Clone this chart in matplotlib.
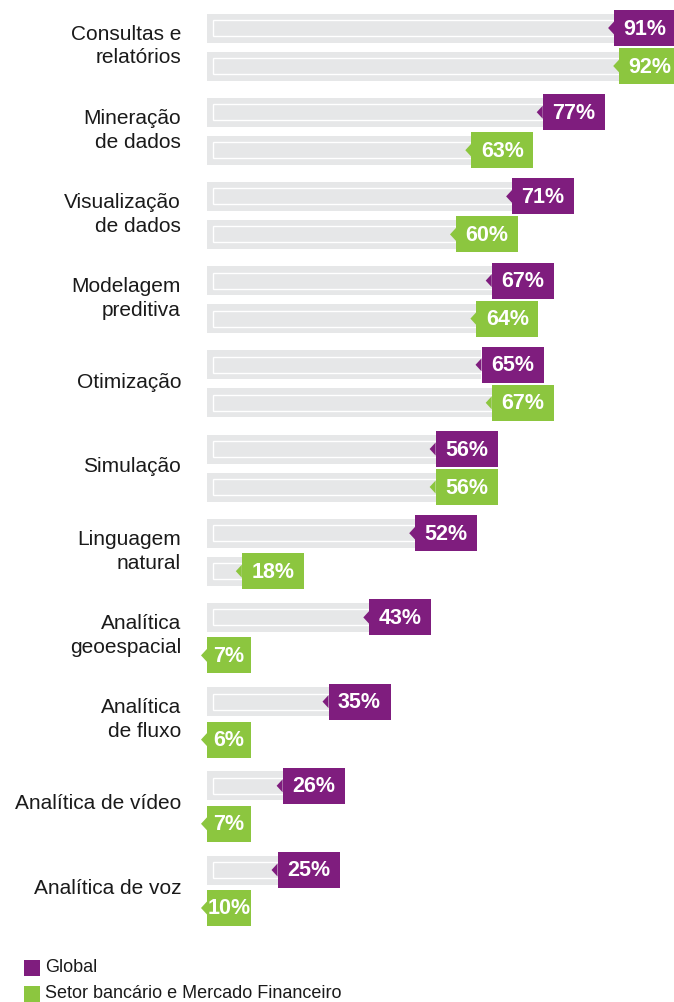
import matplotlib.pyplot as plt
from matplotlib.patches import Rectangle, Polygon

plt.rcParams['font.family'] = ['Liberation Sans', 'DejaVu Sans']

categories = ["Consultas e\nrelatórios", "Mineração\nde dados", "Visualização\nde dados",
              "Modelagem\npreditiva", "Otimização", "Simulação", "Linguagem\nnatural",
              "Analítica\ngeoespacial", "Analítica\nde fluxo", "Analítica de vídeo",
              "Analítica de voz"]
global_vals = [91, 77, 71, 67, 65, 56, 52, 43, 35, 26, 25]
bank_vals = [92, 63, 60, 64, 67, 56, 18, 7, 6, 7, 10]
series_names = ["Global", "Setor bancário e Mercado Financeiro"]

purple = "#7f1d7e"
green = "#8cc63f"
grey = "#e6e7e8"
text_col = "#1a1a1a"

W, H = 674, 1002
fig = plt.figure(figsize=(W / 100, H / 100), dpi=100)
ax = fig.add_axes([0, 0, 1, 1])
ppu = 5.1                      # pixels per percentage point
x_left = -150 / ppu
ax.set_xlim(x_left, x_left + W / ppu)
ax.set_ylim(H, 0)
ax.axis('off')
x0 = (207 - 150) / ppu         # where the grey tracks start

for i, cat in enumerate(categories):
    yc = 28 + 84.2 * i
    for j, (v, col) in enumerate([(global_vals[i], purple), (bank_vals[i], green)]):
        y = yc + 38 * j
        bl = max(v, x0)
        # grey track with white inner outline
        if v > x0:
            ax.add_patch(Rectangle((x0, y - 14.5), v - x0, 29, color=grey, lw=0))
            ax.add_patch(Rectangle((x0 + 6 / ppu, y - 8), v - x0, 16, fill=False,
                                   ec='white', lw=1.0))
        # value tag
        w = (62 if v > 10 else 44) / ppu
        ax.add_patch(Rectangle((bl, y - 18), w, 36, color=col, lw=0, zorder=3))
        ax.add_patch(Polygon([(bl, y - 6.5), (bl - 6 / ppu, y), (bl, y + 6.5)],
                             closed=True, color=col, lw=0, zorder=3))
        ax.text(bl + w / 2, y + 1, f"{v}%", color='white', fontsize=15.5,
                fontweight='bold', ha='center', va='center', zorder=4)
    ax.text((181 - 150) / ppu, yc + 18, cat, ha='right', va='center', fontsize=15,
            color=text_col, linespacing=1.32)

# legend
for k, (name, col) in enumerate(zip(series_names, [purple, green])):
    yc = 968 + 26 * k
    fig.add_artist(Rectangle((24 / W, 1 - (yc + 8) / H), 16 / W, 16 / H,
                             transform=fig.transFigure, color=col, lw=0))
    fig.text(45 / W, 1 - yc / H, name, va='center', ha='left', fontsize=13,
             color=text_col)

fig.savefig("out.png", dpi=100)
